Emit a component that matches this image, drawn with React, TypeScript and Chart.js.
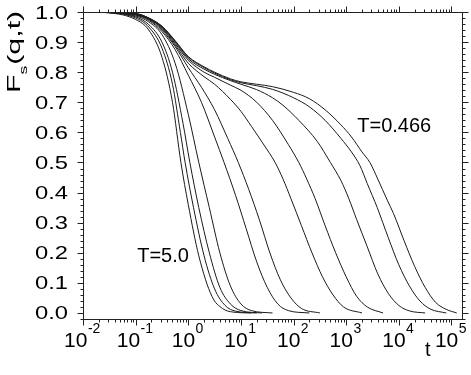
import React, { useEffect, useRef } from "react";
import { Chart, registerables } from "chart.js";
Chart.register(...registerables);

const W = 471;
const H = 375;

// log10(t) and F_s(q,t), one pair of arrays per temperature
const lt_T500 = [-2, -1.5, -1, -0.75, -0.5, -0.3, -0.14, 0, 0.2, 0.45, 0.65, 0.85, 1.2];
const fs_T500 = [1, 0.997, 0.975, 0.94, 0.85, 0.7, 0.5, 0.36, 0.19, 0.055, 0.015, 0.003, 0];

const lt_T400 = [-2, -1.5, -1, -0.75, -0.5, -0.3, -0.15, -0.06, 0.1, 0.3, 0.5, 0.7, 0.9, 1.3];
const fs_T400 = [1, 0.998, 0.98, 0.95, 0.88, 0.76, 0.6, 0.5, 0.35, 0.19, 0.08, 0.025, 0.006, 0];

const lt_T300 = [-2, -1.5, -1, -0.75, -0.5, -0.3, -0.1, 0.03, 0.2, 0.4, 0.6, 0.8, 1.0, 1.4];
const fs_T300 = [1, 0.998, 0.984, 0.958, 0.9, 0.8, 0.63, 0.5, 0.35, 0.2, 0.085, 0.03, 0.008, 0];

const lt_T200 = [-2, -1.5, -1, -0.75, -0.5, -0.25, 0, 0.2, 0.4, 0.6, 0.8, 1.0, 1.2, 1.6];
const fs_T200 = [1, 0.998, 0.987, 0.967, 0.925, 0.83, 0.66, 0.5, 0.35, 0.2, 0.09, 0.03, 0.008, 0];

const lt_T100 = [-2, -1.5, -1, -0.75, -0.5, -0.25, 0, 0.25, 0.5, 0.68, 0.9, 1.1, 1.3, 1.5, 1.7, 1.9, 2.3];
const fs_T100 = [1, 0.999, 0.99, 0.972, 0.935, 0.875, 0.79, 0.7, 0.585, 0.5, 0.39, 0.28, 0.17, 0.085, 0.03, 0.008, 0];

const lt_T080 = [-2, -1.5, -1, -0.75, -0.5, -0.25, 0, 0.25, 0.5, 0.75, 0.95, 1.15, 1.35, 1.55, 1.75, 1.95, 2.15, 2.5];
const fs_T080 = [1, 0.999, 0.991, 0.975, 0.94, 0.885, 0.815, 0.75, 0.675, 0.58, 0.5, 0.41, 0.31, 0.2, 0.11, 0.05, 0.015, 0];

const lt_T060 = [-2, -1.5, -1, -0.75, -0.5, -0.25, 0, 0.3, 0.5, 0.8, 1.0, 1.2, 1.45, 1.65, 1.8, 1.95, 2.15, 2.35, 2.55, 2.75, 2.95, 3.3];
const fs_T060 = [1, 0.999, 0.992, 0.977, 0.945, 0.89, 0.83, 0.785, 0.76, 0.71, 0.67, 0.62, 0.555, 0.5, 0.445, 0.38, 0.29, 0.2, 0.12, 0.06, 0.02, 0];

const lt_T055 = [-2, -1.5, -1, -0.75, -0.5, -0.25, 0, 0.3, 0.5, 0.8, 1.0, 1.3, 1.6, 1.9, 2.1, 2.25, 2.41, 2.6, 2.8, 3.0, 3.2, 3.4, 3.7];
const fs_T055 = [1, 0.999, 0.993, 0.978, 0.948, 0.895, 0.84, 0.8, 0.783, 0.757, 0.74, 0.7, 0.64, 0.56, 0.5, 0.445, 0.38, 0.29, 0.2, 0.12, 0.055, 0.02, 0];

const lt_T050 = [-2, -1.5, -1, -0.75, -0.5, -0.25, 0, 0.3, 0.5, 0.8, 1.0, 1.3, 1.6, 1.8, 2.1, 2.45, 2.7, 2.9, 3.05, 3.2, 3.4, 3.6, 3.8, 4.0, 4.2, 4.5];
const fs_T050 = [1, 0.999, 0.994, 0.979, 0.95, 0.9, 0.845, 0.81, 0.793, 0.772, 0.76, 0.742, 0.715, 0.69, 0.64, 0.57, 0.5, 0.44, 0.38, 0.31, 0.22, 0.13, 0.065, 0.025, 0.007, 0];

const lt_T0475 = [-2, -1.5, -1, -0.75, -0.5, -0.25, 0, 0.3, 0.5, 0.8, 1.0, 1.3, 1.6, 2.0, 2.3, 2.6, 2.9, 3.1, 3.26, 3.4, 3.59, 3.8, 4.0, 4.2, 4.4, 4.6, 4.9];
const fs_T0475 = [1, 0.999, 0.995, 0.98, 0.952, 0.903, 0.85, 0.815, 0.797, 0.775, 0.765, 0.755, 0.743, 0.715, 0.685, 0.64, 0.58, 0.535, 0.49, 0.43, 0.35, 0.25, 0.16, 0.09, 0.04, 0.013, 0];

const lt_T0466 = [-2, -1.5, -1, -0.75, -0.5, -0.25, 0, 0.3, 0.5, 0.8, 1.0, 1.3, 1.6, 2.0, 2.3, 2.6, 2.9, 3.1, 3.3, 3.45, 3.6, 3.78, 3.9, 4.1, 4.3, 4.5, 4.7, 4.9, 5.1];
const fs_T0466 = [1, 0.999, 0.995, 0.98, 0.953, 0.905, 0.852, 0.818, 0.8, 0.778, 0.768, 0.76, 0.752, 0.733, 0.712, 0.675, 0.625, 0.585, 0.535, 0.5, 0.445, 0.375, 0.33, 0.24, 0.155, 0.085, 0.035, 0.012, 0];

const temps = ["5.0", "4.0", "3.0", "2.0", "1.0", "0.8", "0.6", "0.55", "0.5", "0.475", "0.466"];
const logTimes = [lt_T500, lt_T400, lt_T300, lt_T200, lt_T100, lt_T080, lt_T060, lt_T055, lt_T050, lt_T0475, lt_T0466];
const fsValues = [fs_T500, fs_T400, fs_T300, fs_T200, fs_T100, fs_T080, fs_T060, fs_T055, fs_T050, fs_T0475, fs_T0466];

// axis ticks
const xDecades = [-2, -1, 0, 1, 2, 3, 4, 5];
const yTickLabels = ["0.0", "0.1", "0.2", "0.3", "0.4", "0.5", "0.6", "0.7", "0.8", "0.9", "1.0"];
const xMin = 0.01;
const xMax = Math.pow(10, 5.2);
const yMin = -0.02;
const yMax = 1.0;

const FONT = '"Liberation Sans", Arial, Helvetica, sans-serif';

const decoPlugin = {
  id: "deco",
  afterDraw(chart: any) {
    const { ctx, chartArea: a, scales } = chart;
    const xs = scales.x;
    const ys = scales.y;
    const L = Math.round(a.left) + 0.5;
    const R = Math.round(a.right) + 0.5;
    const T = Math.round(a.top) + 0.5;
    const B = Math.round(a.bottom) + 0.5;
    ctx.save();
    ctx.strokeStyle = "#222";
    ctx.lineWidth = 1;
    ctx.strokeRect(L, T, R - L, B - T);

    ctx.beginPath();
    for (const k of xDecades) {
      for (let m = 1; m <= 9; m++) {
        const v = m * Math.pow(10, k);
        if (v < xMin - 1e-12 || v > xMax) continue;
        const px = Math.round(xs.getPixelForValue(v)) + 0.5;
        const len = m === 1 ? 6 : 3;
        ctx.moveTo(px, B);
        ctx.lineTo(px, B + len);
        ctx.moveTo(px, T);
        ctx.lineTo(px, T - len);
      }
    }
    for (let i = -1; i <= 50; i++) {
      const v = i * 0.02;
      if (v < yMin - 1e-9 || v > yMax + 1e-9) continue;
      const py = Math.round(ys.getPixelForValue(v)) + 0.5;
      const len = i % 5 === 0 ? 6 : 3;
      ctx.moveTo(L, py);
      ctx.lineTo(L - len, py);
      ctx.moveTo(R, py);
      ctx.lineTo(R + len, py);
    }
    ctx.stroke();

    ctx.fillStyle = "#000";
    for (const k of xDecades) {
      const px = xs.getPixelForValue(Math.pow(10, k));
      ctx.font = `20px ${FONT}`;
      const wBase = ctx.measureText("10").width * 1.05;
      ctx.font = `14px ${FONT}`;
      const expTxt = String(k);
      const wExp = ctx.measureText(expTxt).width;
      const start = px - (wBase + wExp) / 2 - 1;
      ctx.save();
      ctx.translate(start, 347);
      ctx.scale(1.05, 1);
      ctx.font = `20px ${FONT}`;
      ctx.textAlign = "left";
      ctx.fillText("10", 0, 0);
      ctx.restore();
      ctx.font = `14px ${FONT}`;
      ctx.textAlign = "left";
      ctx.fillText(expTxt, start + wBase + 0.5, 333);
    }
    yTickLabels.forEach((lab) => {
      const py = ys.getPixelForValue(parseFloat(lab));
      ctx.save();
      ctx.translate(68, py + 6.5);
      ctx.scale(1.25, 1);
      ctx.font = `19px ${FONT}`;
      ctx.textAlign = "right";
      ctx.fillText(lab, 0, 0);
      ctx.restore();
    });
    ctx.save();
    ctx.translate(20, 93);
    ctx.rotate(-Math.PI / 2);
    ctx.scale(1.6, 1);
    ctx.textAlign = "left";
    ctx.font = `19px ${FONT}`;
    ctx.fillText("F", 0, 0);
    const wF = ctx.measureText("F").width;
    ctx.font = `11px ${FONT}`;
    ctx.fillText("s", wF, 7);
    const wS = ctx.measureText("s").width;
    ctx.font = `19px ${FONT}`;
    ctx.fillText("(q,t)", wF + wS + 0.5, 0);
    ctx.restore();
    ctx.font = `20px ${FONT}`;
    ctx.textAlign = "left";
    ctx.fillText("t", 425, 356);
    ctx.font = `20px ${FONT}`;
    ctx.fillText("T=0.466", xs.getPixelForValue(Math.pow(10, 3.21)), ys.getPixelForValue(0.6));
    ctx.fillText("T=5.0", xs.getPixelForValue(Math.pow(10, -0.97)), ys.getPixelForValue(0.17));
    ctx.restore();
  },
};

export default function App() {
  const ref = useRef<HTMLCanvasElement | null>(null);
  useEffect(() => {
    if (!ref.current) return;
    const datasets = temps.map((tLabel, i) => ({
      label: "T=" + tLabel,
      data: logTimes[i].map((lt, j) => ({ x: Math.pow(10, lt), y: fsValues[i][j] })),
      borderColor: "#1a1a1a",
      borderWidth: 1,
      pointRadius: 0,
      fill: false,
      cubicInterpolationMode: "monotone" as const,
    }));
    const chart = new Chart(ref.current, {
      type: "line",
      data: { datasets },
      options: {
        animation: false,
        responsive: false,
        devicePixelRatio: 1,
        layout: { padding: { left: 83, top: 12, right: 9, bottom: 56 } },
        plugins: { legend: { display: false }, tooltip: { enabled: false } },
        scales: {
          x: { type: "logarithmic", min: xMin, max: xMax, display: false },
          y: { type: "linear", min: yMin, max: yMax, display: false },
        },
      },
      plugins: [decoPlugin],
    });
    return () => chart.destroy();
  }, []);
  return (
    <div style={{ position: "fixed", left: 0, top: 0, width: W, height: H, background: "#fff" }}>
      <canvas ref={ref} width={W} height={H} style={{ display: "block", width: W, height: H }} />
    </div>
  );
}
